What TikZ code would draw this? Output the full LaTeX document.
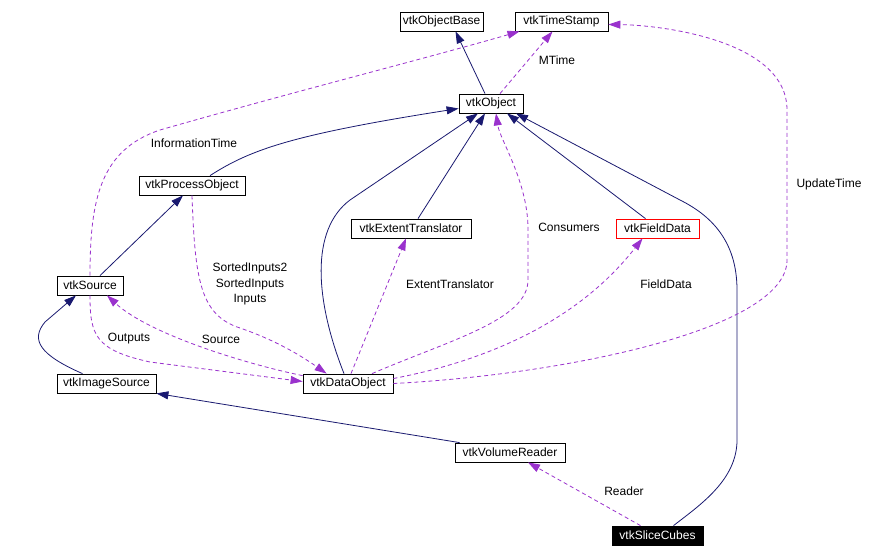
\documentclass[tikz,border=0pt]{standalone}
\usepackage{fontspec}
\setmainfont{Liberation Sans}
\usetikzlibrary{arrows.meta,calc}
\definecolor{navy}{HTML}{191970}
\definecolor{purp}{HTML}{9A32CD}
\begin{document}
\begin{tikzpicture}[x=1pt,y=-1pt,
  cls/.style={draw=black,line width=0.8pt,rectangle,inner sep=0pt,minimum height=19pt,font=\fontsize{12}{14}\selectfont},
  lbl/.style={inner sep=0pt,font=\fontsize{12}{15.5}\selectfont,align=center},
  inh/.style={draw=navy,line width=0.8pt,-{Triangle[length=12pt,width=8pt]}},
  use/.style={draw=purp,line width=0.8pt,dash pattern=on 4pt off 3pt,-{Triangle[length=12pt,width=8pt]}}]
\fill[white] (0,0) rectangle (869,557);
\useasboundingbox (0,0) rectangle (869,557);

% nodes
\node[cls,minimum width=83pt] (objbase) at (441.5,21.5) {vtkObjectBase};
\node[cls,minimum width=93pt] (ts) at (561.5,21.5) {vtkTimeStamp};
\node[cls,minimum width=64pt] (obj) at (491,103.5) {vtkObject};
\node[cls,minimum width=106pt] (po) at (192,185.5) {vtkProcessObject};
\node[cls,minimum width=120pt] (ext) at (411,228.5) {vtkExtentTranslator};
\node[cls,minimum width=83pt,draw=red] (fd) at (657.5,228.5) {vtkFieldData};
\node[cls,minimum width=66pt] (src) at (90,285.5) {vtkSource};
\node[cls,minimum width=99pt] (img) at (106.5,383.5) {vtkImageSource};
\node[cls,minimum width=90pt] (dobj) at (348,383.5) {vtkDataObject};
\node[cls,minimum width=110pt] (vr) at (510,452.5) {vtkVolumeReader};
\node[cls,minimum width=91pt,fill=black,text=white] (sc) at (657.5,535.5) {vtkSliceCubes};

% inheritance (solid navy)
\draw[inh] ($(obj.north)+(-6,0)$) -- ($(objbase.south)+(14,0)$);
\draw[inh] ($(po.north)+(18,0)$) .. controls (250,150) and (290,135) .. ($(obj.west)+(0,5)$);
\draw[inh] ($(dobj.north)+(-4,0)$) .. controls (315,300) and (310,230) .. (350,200) -- ($(obj.south)+(-13,0)$);
\draw[inh] ($(ext.north)+(7,0)$) -- ($(obj.south)+(-6,0)$);
\draw[inh] ($(fd.north)+(-12,0)$) -- ($(obj.south)+(16,0)$);
\draw[inh] ($(sc.north)+(16,0)$) .. controls (700,505) and (737,480) .. (737,440) -- (737,290) .. controls (737,240) and (710,215) .. (680,200) -- ($(obj.south)+(25,0)$);
\draw[inh] ($(src.north)+(10,0)$) -- ($(po.south)+(-9,0)$);
\draw[inh] ($(img.north)+(-24,0)$) .. controls (40,355) and (30,340) .. (45,322) -- ($(src.south)+(-14,0)$);
\draw[inh] ($(vr.north west)+(5,0)$) -- (img.south east);

% usage (dashed purple)
\draw[use] ($(obj.north)+(9,0)$) -- ($(ts.south)+(-9,0)$);
\draw[use] (src.north) .. controls (90,200) and (100,150) .. (160,130) .. controls (300,90) and (420,60) .. ($(ts.south)+(-42,0)$);
\draw[use] (dobj.east) .. controls (560,375) and (787,330) .. (787,260) -- (787,110) .. controls (787,40) and (660,25) .. ($(ts.east)+(0,3)$);
\draw[use] ($(dobj.north)+(24,0)$) .. controls (450,340) and (528,320) .. (528,280) -- (528,227) .. controls (527,180) and (500,140) .. ($(obj.south)+(5,0)$);
\draw[use] (po.south) .. controls (195,280) and (200,315) .. (240,328) .. controls (275,340) and (300,355) .. ($(dobj.north west)+(24,0)$);
\draw[use] ($(dobj.north west)+(0,2)$) .. controls (250,365) and (150,335) .. ($(src.south)+(17,0)$);
\draw[use] (src.south) .. controls (90,335) and (95,350) .. (150,362) -- ($(dobj.west)+(0,-2)$);
\draw[use] ($(sc.north)+(-17,0)$) -- ($(vr.south)+(18,0)$);
\draw[use] ($(dobj.north)+(3,0)$) -- ($(ext.south)+(-5,0)$);
\draw[use] ($(dobj.east)+(0,-5)$) .. controls (480,362) and (575,325) .. ($(fd.south)+(-15,0)$);

% labels
\node[lbl] (lmtime) at (557,60) {MTime};
\node[lbl] (linfo) at (194,143) {InformationTime};
\node[lbl] (lupd) at (829,184) {UpdateTime};
\node[lbl] (lcons) at (569,227) {Consumers};
\node[lbl] (lsort) at (250,284) {SortedInputs2\\SortedInputs\\Inputs};
\node[lbl] (lext) at (450,284) {ExtentTranslator};
\node[lbl] (lfd) at (666,284) {FieldData};
\node[lbl] (lout) at (129,339) {Outputs};
\node[lbl] (lsrc) at (221,339) {Source};
\node[lbl] (lrd) at (624,491) {Reader};
\end{tikzpicture}
\end{document}
